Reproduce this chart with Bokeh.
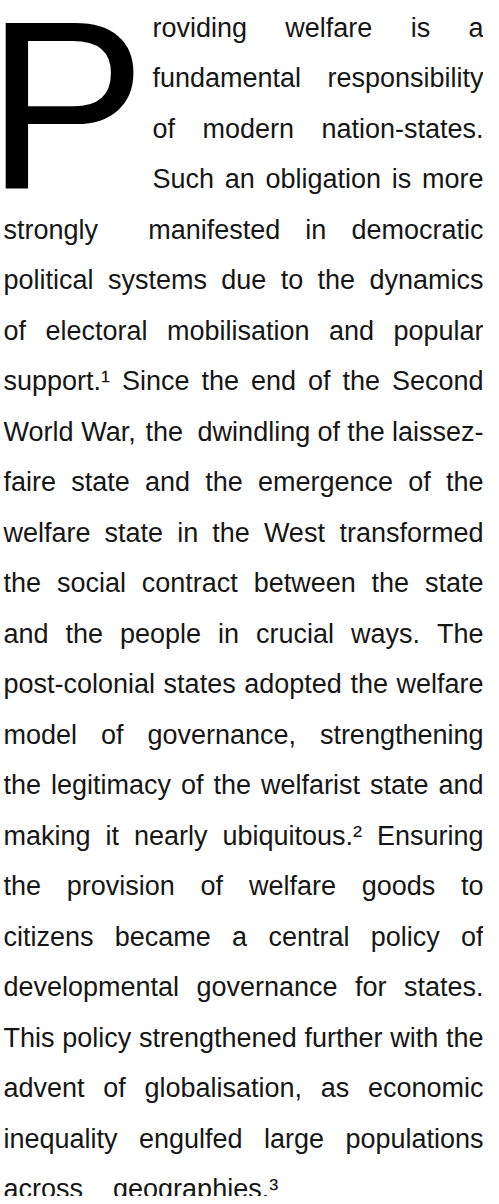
from bokeh.plotting import figure
from bokeh.models import Range1d, ColumnDataSource
from bokeh.core.properties import value
from bokeh.embed import file_html
from bokeh.resources import INLINE

# ---------------- content ----------------
DROP_CAP = "P"
LINES = [
    "roviding welfare is a",
    "fundamental responsibility",
    "of modern nation-states.",
    "Such an obligation is more",
    "strongly  manifested in democratic",
    "political systems due to the dynamics",
    "of electoral mobilisation and popular",
    "support.\u00b9 Since the end of the Second",
    "World War, the  dwindling of the laissez-",
    "faire state and the emergence of the",
    "welfare state in the West transformed",
    "the social contract between the state",
    "and the people in crucial ways. The",
    "post-colonial states adopted the welfare",
    "model of governance, strengthening",
    "the legitimacy of the welfarist state and",
    "making it nearly ubiquitous.\u00b2 Ensuring",
    "the provision of welfare goods to",
    "citizens became a central policy of",
    "developmental governance for states.",
    "This policy strengthened further with the",
    "advent of globalisation, as economic",
    "inequality engulfed large populations",
    "across    geographies.\u00b3",
]
INDENTED_LINES = 4

# ---------------- layout / style ----------------
# the figure runs to the bottom edge of the 1204px window; its negative bottom
# margin cancels the page's bottom margin so the page height stays 1204px.
W, H = 483, 1196
OFF = 8
FONT = "Liberation Sans"
FS = 27.0
LEFT = 11 - OFF
INDENT = 160 - OFF
RIGHT = 491 - OFF
BASE0 = 35.0 - OFF
LEAD = 50.5
CAP_FS = 240.0
CAP_SHIFT = 74.0          # compensates the renderer's offset for the very large glyph
TEXT_COLOR = "#161616"

# Arial / Liberation Sans advance widths (per 1000 em)
WID = {" ": 278, ",": 278, ".": 278, "-": 333, "\u00b9": 333, "\u00b2": 333, "\u00b3": 333}
WID.update({c: v for c, v in zip("abcdefghijklmnopqrstuvwxyz",
            [556, 556, 500, 556, 556, 278, 556, 556, 222, 222, 500, 222, 833,
             556, 556, 556, 556, 333, 500, 278, 556, 500, 722, 500, 500, 500])})
WID.update({c: v for c, v in zip("ABCDEFGHIJKLMNOPQRSTUVWXYZ",
            [667, 667, 722, 722, 667, 611, 778, 722, 278, 500, 667, 556, 833,
             722, 778, 667, 778, 722, 667, 611, 722, 667, 944, 667, 667, 611])})


def tw(s):
    return sum(WID.get(ch, 556) for ch in s) * FS / 1000.0


lx, ly, lt = [], [], []
rx, ry, rt = [], [], []
n = len(LINES)
for i, line in enumerate(LINES):
    y = BASE0 + i * LEAD
    x0 = INDENT if i < INDENTED_LINES else LEFT
    tokens = line.split(" ")
    last = (i == n - 1)
    if last:
        gap = FS * 0.278
    else:
        free = (RIGHT - x0) - sum(tw(t) for t in tokens)
        gap = free / (len(tokens) - 1)
    x = x0
    for j, t in enumerate(tokens):
        if t:
            if j == len(tokens) - 1 and not last:
                rx.append(RIGHT); ry.append(y); rt.append(t)
            else:
                lx.append(x); ly.append(y); lt.append(t)
        x += tw(t) + gap

p = figure(width=W, height=H, x_range=Range1d(0, W), y_range=Range1d(H, 0),
           output_backend="svg", toolbar_location=None, min_border=0,
           x_axis_location=None, y_axis_location=None, tools="")
p.styles = {"margin-bottom": "-8px"}
p.grid.visible = False
p.outline_line_color = None
p.background_fill_color = "white"
p.border_fill_color = "white"

# drop cap: bottom aligned with the 4th line's baseline
cap_base = BASE0 + (INDENTED_LINES - 1) * LEAD
p.text(x=[12 - 0.077 * CAP_FS - OFF], y=[cap_base - CAP_SHIFT], text=[DROP_CAP],
       text_font=value(FONT), text_font_size=value(f"{CAP_FS}px"),
       text_color="#000000", text_align="left", text_baseline="alphabetic")

src_l = ColumnDataSource(dict(x=lx, y=ly, t=lt))
src_r = ColumnDataSource(dict(x=rx, y=ry, t=rt))
p.text(x="x", y="y", text="t", source=src_l, text_font=value(FONT),
       text_font_size=value(f"{FS}px"), text_color=TEXT_COLOR,
       text_align="left", text_baseline="alphabetic")
p.text(x="x", y="y", text="t", source=src_r, text_font=value(FONT),
       text_font_size=value(f"{FS}px"), text_color=TEXT_COLOR,
       text_align="right", text_baseline="alphabetic")

open("out.html", "w").write(file_html(p, INLINE))
